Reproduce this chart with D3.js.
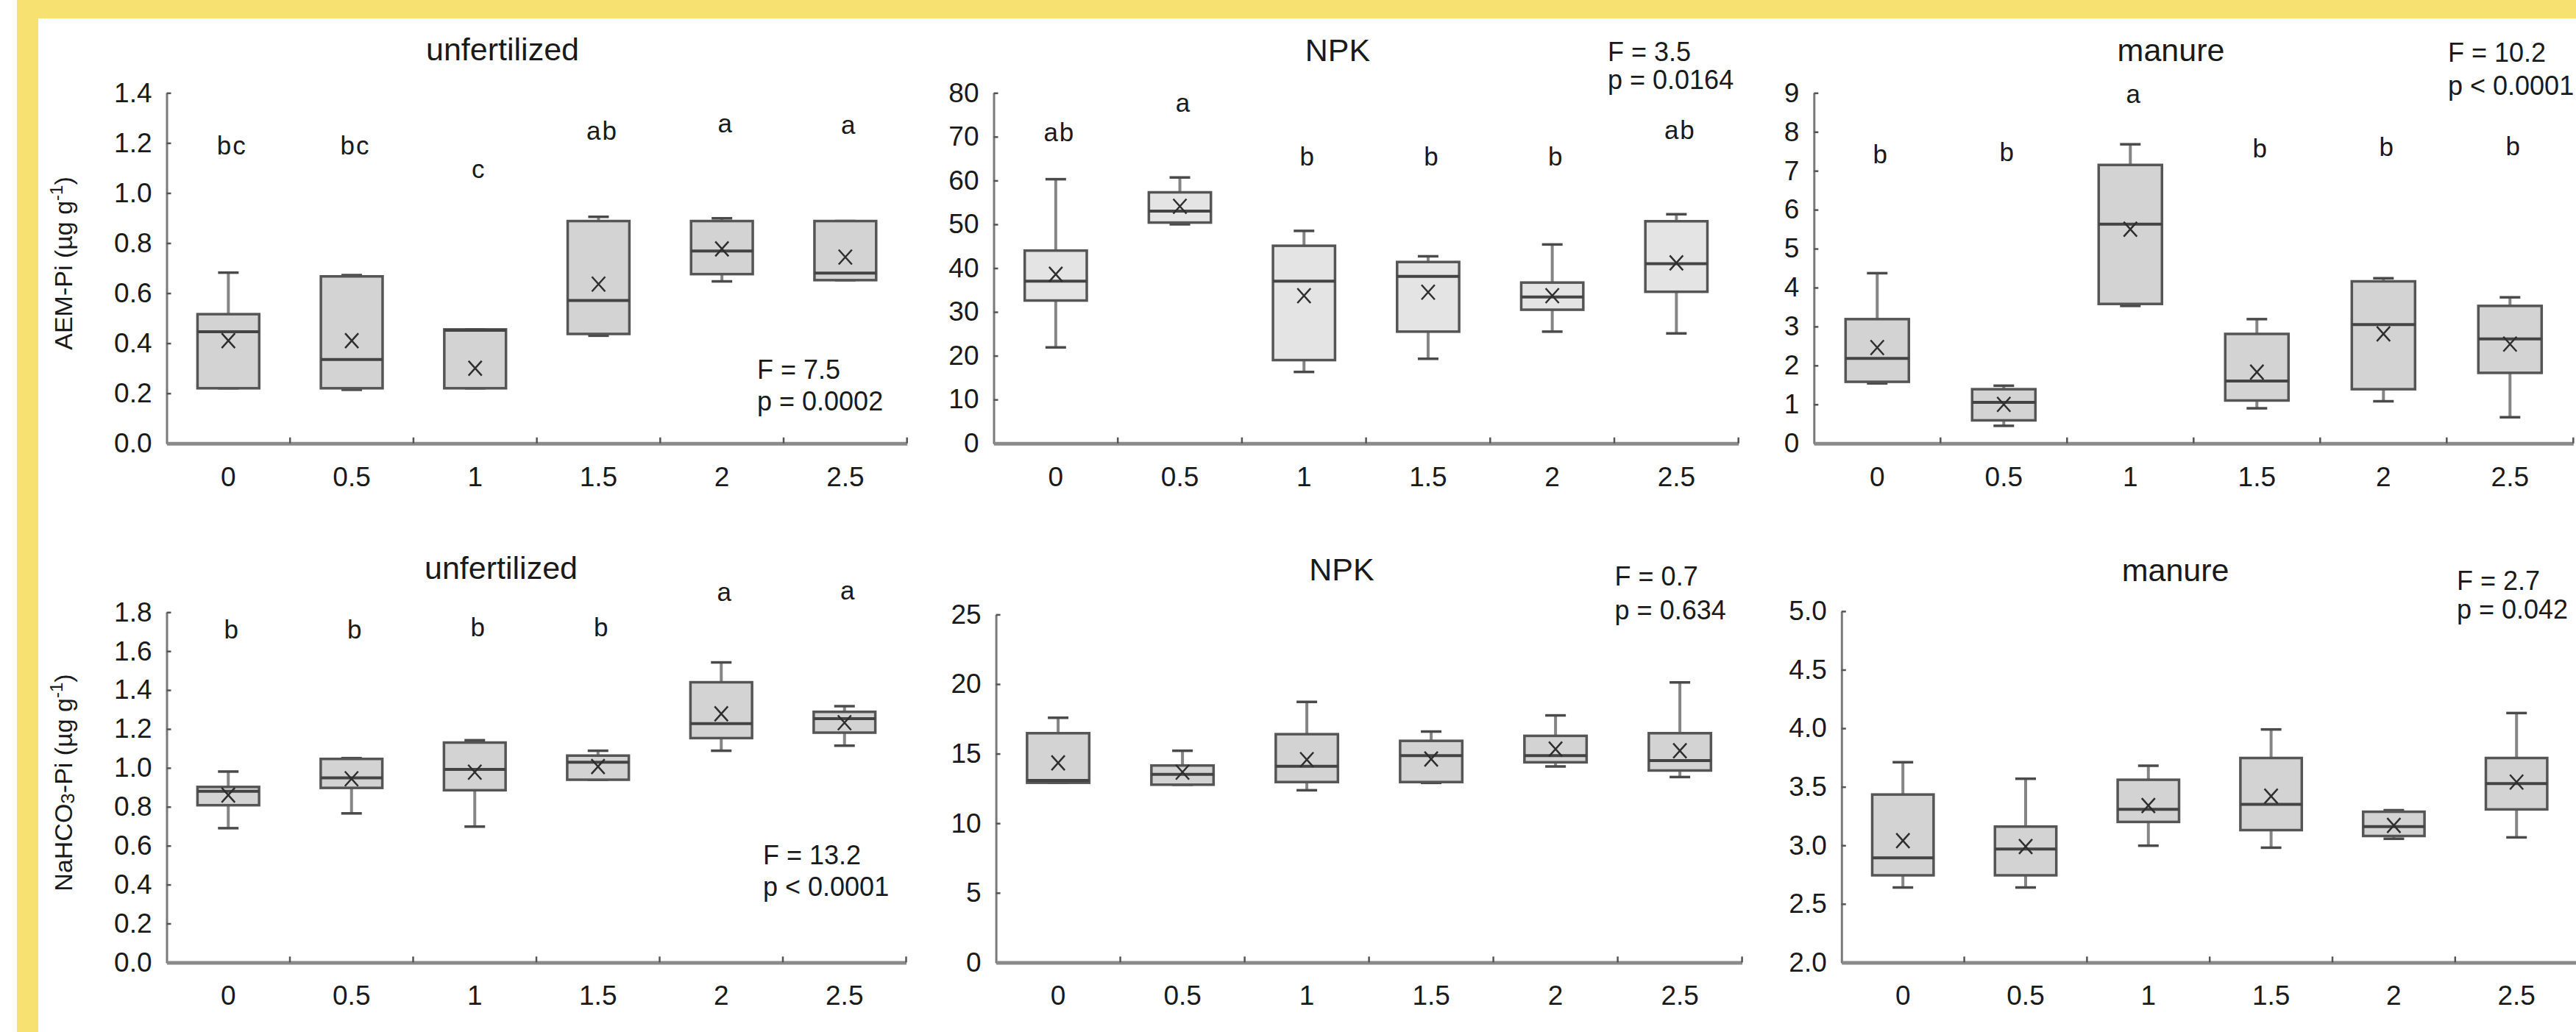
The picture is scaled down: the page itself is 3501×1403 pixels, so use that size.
<!DOCTYPE html>
<html><head><meta charset="utf-8">
<script src="https://cdn.jsdelivr.net/npm/d3@7"></script>
<style>
html,body{margin:0;padding:0;background:#fff;}
svg{display:block;}
text{font-family:"Liberation Sans",Arial,Helvetica,sans-serif;}
</style>
</head><body>
<svg id="chart" width="3501" height="1403"></svg>
<script>
// ---------------- DATA ----------------
const doses = ["0", "0.5", "1", "1.5", "2", "2.5"];

// each row: [min, q1, median, q3, max, mean]
const aemUnfertilized = [
  [0.22, 0.22, 0.446, 0.516, 0.682, 0.41],
  [0.214, 0.22, 0.335, 0.667, 0.672, 0.41],
  [0.22, 0.22, 0.452, 0.455, 0.455, 0.30],
  [0.43, 0.437, 0.571, 0.888, 0.905, 0.636],
  [0.647, 0.676, 0.768, 0.888, 0.899, 0.777],
  [0.652, 0.652, 0.68, 0.888, 0.888, 0.744]
];
const aemNPK = [
  [21.9, 32.6, 37.0, 44.0, 60.3, 38.6],
  [50.0, 50.4, 53.0, 57.3, 60.7, 54.1],
  [16.3, 19.0, 37.0, 45.1, 48.5, 33.7],
  [19.3, 25.5, 38.1, 41.4, 42.7, 34.5],
  [25.5, 30.5, 33.4, 36.7, 45.4, 33.7],
  [25.1, 34.6, 41.0, 50.7, 52.3, 41.2]
];
const aemManure = [
  [1.54, 1.58, 2.18, 3.19, 4.37, 2.46],
  [0.45, 0.59, 1.05, 1.39, 1.48, 1.00],
  [3.53, 3.58, 5.63, 7.15, 7.68, 5.50],
  [0.90, 1.10, 1.60, 2.81, 3.19, 1.83],
  [1.08, 1.39, 3.05, 4.16, 4.24, 2.81],
  [0.67, 1.81, 2.68, 3.53, 3.75, 2.55]
];
const nahco3Unfertilized = [
  [0.690, 0.808, 0.880, 0.902, 0.981, 0.86],
  [0.766, 0.897, 0.949, 1.046, 1.05, 0.944],
  [0.698, 0.885, 0.992, 1.13, 1.142, 0.978],
  [0.939, 0.939, 1.029, 1.063, 1.088, 1.007],
  [1.088, 1.153, 1.227, 1.44, 1.542, 1.278],
  [1.114, 1.181, 1.253, 1.288, 1.317, 1.232]
];
const nahco3NPK = [
  [12.91, 12.91, 13.08, 16.47, 17.58, 14.34],
  [12.77, 12.77, 13.51, 14.15, 15.21, 13.67],
  [12.37, 12.96, 14.1, 16.4, 18.72, 14.57],
  [12.9, 12.96, 14.86, 15.92, 16.59, 14.62],
  [14.08, 14.38, 14.86, 16.28, 17.75, 15.33],
  [13.32, 13.79, 14.5, 16.47, 20.12, 15.21]
];
const nahco3Manure = [
  [2.64, 2.744, 2.893, 3.434, 3.71, 3.04],
  [2.64, 2.744, 2.969, 3.16, 3.569, 2.99],
  [2.997, 3.2, 3.307, 3.56, 3.68, 3.34],
  [2.98, 3.13, 3.35, 3.746, 3.99, 3.42],
  [3.056, 3.08, 3.16, 3.287, 3.30, 3.17],
  [3.068, 3.307, 3.527, 3.746, 4.13, 3.54]
];

// significance letters and their heights (data units)
const aemUnfertilizedLetters = ["bc", "bc", "c", "ab", "a", "a"];
const aemUnfertilizedLetterY = [1.155, 1.155, 1.059, 1.214, 1.242, 1.236];
const aemNPKLetters = ["ab", "a", "b", "b", "b", "ab"];
const aemNPKLetterY = [68.97, 75.7, 63.5, 63.5, 63.5, 69.5];
const aemManureLetters = ["b", "b", "a", "b", "b", "b"];
const aemManureLetterY = [7.19, 7.25, 8.75, 7.34, 7.38, 7.40];
const nahco3UnfertilizedLetters = ["b", "b", "b", "b", "a", "a"];
const nahco3UnfertilizedLetterY = [1.665, 1.665, 1.676, 1.676, 1.856, 1.865];

// axis ticks
const aemUnfertilizedTicks = [0, 0.2, 0.4, 0.6, 0.8, 1.0, 1.2, 1.4];
const aemNPKTicks = [0, 10, 20, 30, 40, 50, 60, 70, 80];
const aemManureTicks = [0, 1, 2, 3, 4, 5, 6, 7, 8, 9];
const nahco3UnfertilizedTicks = [0, 0.2, 0.4, 0.6, 0.8, 1.0, 1.2, 1.4, 1.6, 1.8];
const nahco3NPKTicks = [0, 5, 10, 15, 20, 25];
const nahco3ManureTicks = [2.0, 2.5, 3.0, 3.5, 4.0, 4.5, 5.0];

const panelTitles = ["unfertilized", "NPK", "manure", "unfertilized", "NPK", "manure"];
const anovaF = ["F = 7.5", "F = 3.5", "F = 10.2", "F = 13.2", "F = 0.7", "F = 2.7"];
const anovaP = ["p = 0.0002", "p = 0.0164", "p < 0.0001", "p < 0.0001", "p = 0.634", "p = 0.042"];

// ---------------- LAYOUT ----------------
const layout = [
  {data: aemUnfertilized, ticks: aemUnfertilizedTicks, letters: aemUnfertilizedLetters, letterY: aemUnfertilizedLetterY,
   x: 226.5, bw: 167.7, top: 126.3, bottom: 602.7, fmt: ".1f", fill: "#d3d3d3",
   tx: 683, ty: 82, sx: 1029, sy1: 515, sy2: 558},
  {data: aemNPK, ticks: aemNPKTicks, letters: aemNPKLetters, letterY: aemNPKLetterY,
   x: 1350.5, bw: 168.7, top: 126.3, bottom: 602.7, fmt: "d", fill: "#e4e4e4",
   tx: 1818, ty: 82.6, sx: 2185, sy1: 82.6, sy2: 121.4},
  {data: aemManure, ticks: aemManureTicks, letters: aemManureLetters, letterY: aemManureLetterY,
   x: 2465.3, bw: 172, top: 126.3, bottom: 602.7, fmt: "d", fill: "#d3d3d3",
   tx: 2950.5, ty: 82.6, sx: 3327, sy1: 84, sy2: 129},
  {data: nahco3Unfertilized, ticks: nahco3UnfertilizedTicks, letters: nahco3UnfertilizedLetters, letterY: nahco3UnfertilizedLetterY,
   x: 226.5, bw: 167.5, top: 832.3, bottom: 1308.4, fmt: ".1f", fill: "#d3d3d3",
   tx: 681, ty: 787.4, sx: 1037, sy1: 1175, sy2: 1218},
  {data: nahco3NPK, ticks: nahco3NPKTicks, letters: null, letterY: null,
   x: 1353.6, bw: 169, top: 835.4, bottom: 1308.4, fmt: "d", fill: "#d3d3d3",
   tx: 1823.5, ty: 788.8, sx: 2194.6, sy1: 796, sy2: 842},
  {data: nahco3Manure, ticks: nahco3ManureTicks, letters: null, letterY: null,
   x: 2502.8, bw: 166.8, top: 830.9, bottom: 1308.4, fmt: ".1f", fill: "#d3d3d3",
   tx: 2956.6, ty: 789.7, sx: 3339, sy1: 802, sy2: 841}
];

const svg = d3.select("#chart");
svg.append("rect").attr("width", 3501).attr("height", 1403).attr("fill", "#ffffff");

// yellow frame
const yellow = "#f7e170";
svg.append("rect").attr("x", 23).attr("y", 0).attr("width", 3501 - 23).attr("height", 25).attr("fill", yellow);
svg.append("rect").attr("x", 23).attr("y", 0).attr("width", 29).attr("height", 1403).attr("fill", yellow);

const textColor = "#1a1a1a";

layout.forEach((p, pi) => {
  const g = svg.append("g");
  const x = d3.scaleBand().domain(doses).range([p.x, p.x + p.bw * doses.length]).padding(0);
  const y = d3.scaleLinear().domain([p.ticks[0], p.ticks[p.ticks.length - 1]]).range([p.bottom, p.top]);
  const bw = x.bandwidth();
  const boxW = bw * 0.5;

  // y axis
  const yAxis = d3.axisLeft(y).tickValues(p.ticks).tickFormat(d3.format(p.fmt))
    .tickSizeInner(-6).tickSizeOuter(0).tickPadding(20);
  const ya = g.append("g").attr("transform", `translate(${p.x},0)`).call(yAxis);
  ya.select(".domain").attr("stroke", "#7a7a7a").attr("stroke-width", 3);
  ya.selectAll(".tick line").attr("stroke", "#555").attr("stroke-width", 2.5);
  ya.selectAll(".tick text").attr("fill", textColor).attr("font-size", 37)
    .attr("font-family", '"Liberation Sans", Arial, sans-serif');

  // x axis
  const xAxis = d3.axisBottom(x).tickSize(0).tickPadding(0);
  const xa = g.append("g").attr("transform", `translate(0,${p.bottom})`).call(xAxis);
  xa.select(".domain").attr("stroke", "#8a8a8a").attr("stroke-width", 5);
  xa.selectAll(".tick text").attr("fill", textColor).attr("font-size", 37)
    .attr("dy", null).attr("y", 58)
    .attr("font-family", '"Liberation Sans", Arial, sans-serif');
  // separator ticks (inward)
  g.selectAll("line.sep").data(doses).enter().append("line")
    .attr("x1", d => x(d) + bw).attr("x2", d => x(d) + bw)
    .attr("y1", p.bottom).attr("y2", p.bottom - 8)
    .attr("stroke", "#555").attr("stroke-width", 2.5);

  // boxes
  const bx = g.selectAll("g.box").data(p.data).enter().append("g")
    .attr("transform", (d, i) => `translate(${x(doses[i]) + bw / 2},0)`);
  // whiskers
  bx.append("line").attr("x1", 0).attr("x2", 0)
    .attr("y1", d => y(d[4])).attr("y2", d => y(d[3]))
    .attr("stroke", "#858585").attr("stroke-width", 4);
  bx.append("line").attr("x1", 0).attr("x2", 0)
    .attr("y1", d => y(d[1])).attr("y2", d => y(d[0]))
    .attr("stroke", "#858585").attr("stroke-width", 4);
  // caps
  bx.append("line").attr("x1", -14).attr("x2", 14)
    .attr("y1", d => y(d[4])).attr("y2", d => y(d[4]))
    .attr("stroke", "#4a4a4a").attr("stroke-width", 3.5);
  bx.append("line").attr("x1", -14).attr("x2", 14)
    .attr("y1", d => y(d[0])).attr("y2", d => y(d[0]))
    .attr("stroke", "#4a4a4a").attr("stroke-width", 3.5);
  // box
  bx.append("rect").attr("x", -boxW / 2).attr("width", boxW)
    .attr("y", d => y(d[3])).attr("height", d => Math.max(1, y(d[1]) - y(d[3])))
    .attr("fill", p.fill).attr("stroke", "#555").attr("stroke-width", 3.5);
  // median
  bx.append("line").attr("x1", -boxW / 2).attr("x2", boxW / 2)
    .attr("y1", d => y(d[2])).attr("y2", d => y(d[2]))
    .attr("stroke", "#444").attr("stroke-width", 4);
  // mean ×
  bx.append("path")
    .attr("d", d => { const m = y(d[5]); return `M-9,${m - 10}L9,${m + 10}M9,${m - 10}L-9,${m + 10}`; })
    .attr("stroke", "#2e2e2e").attr("stroke-width", 2.5).attr("fill", "none");

  // letters
  if (p.letters) {
    g.selectAll("text.let").data(p.letters).enter().append("text")
      .attr("x", (d, i) => x(doses[i]) + bw / 2 + 5)
      .attr("y", (d, i) => y(p.letterY[i]))
      .attr("text-anchor", "middle").attr("font-size", 35).attr("letter-spacing", 2)
      .attr("fill", textColor).text(d => d);
  }

  // title
  g.append("text").attr("x", p.tx).attr("y", p.ty).attr("text-anchor", "middle")
    .attr("font-size", 43).attr("fill", textColor).text(panelTitles[pi]);

  // stats
  g.append("text").attr("x", p.sx).attr("y", p.sy1).attr("font-size", 36)
    .attr("fill", textColor).text(anovaF[pi]);
  g.append("text").attr("x", p.sx).attr("y", p.sy2).attr("font-size", 36)
    .attr("fill", textColor).text(anovaP[pi]);
});

// y-axis labels
const lab1 = svg.append("text").attr("transform", "translate(98,358) rotate(-90)")
  .attr("text-anchor", "middle").attr("font-size", 34).attr("fill", textColor);
lab1.append("tspan").text("AEM-Pi (µg g");
lab1.append("tspan").attr("font-size", 24).attr("dy", -13).text("-1");
lab1.append("tspan").attr("dy", 13).text(")");

const lab2 = svg.append("text").attr("transform", "translate(98,1064) rotate(-90)")
  .attr("text-anchor", "middle").attr("font-size", 34).attr("fill", textColor);
lab2.append("tspan").text("NaHCO");
lab2.append("tspan").attr("font-size", 26).attr("dy", 3).text("3");
lab2.append("tspan").attr("dy", -3).text("-Pi (µg g");
lab2.append("tspan").attr("font-size", 24).attr("dy", -13).text("-1");
lab2.append("tspan").attr("dy", 13).text(")");
</script>
</body></html>
